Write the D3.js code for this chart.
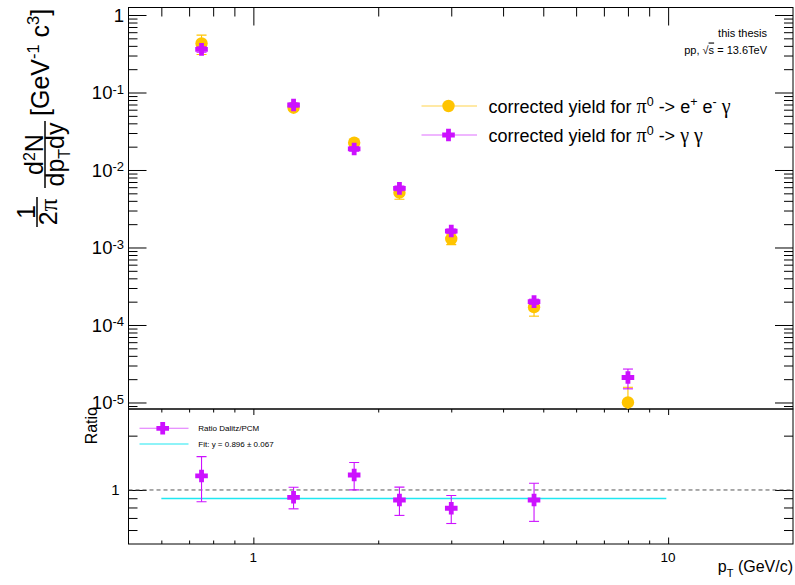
<!DOCTYPE html>
<html>
<head>
<meta charset="utf-8">
<script src="https://cdn.jsdelivr.net/npm/d3@7"></script>
<style>
  html, body { margin: 0; padding: 0; background: #fff; }
  svg { display: block; font-family: "Liberation Sans", Arial, Helvetica, sans-serif; }
  .greek { font-family: "Liberation Serif", "Times New Roman", serif; }
</style>
</head>
<body>
<svg id="chart" width="795" height="585"></svg>
<script>
// pT bin centres (GeV/c)
const ptCenters = [0.75, 1.25, 1.75, 2.25, 3.0, 4.75, 8.0];

// corrected yield, pi0 -> e+ e- gamma (Dalitz)
const dalitzYield = [0.43, 0.0637, 0.0225, 0.0051, 0.00129, 1.7e-4, 1.0e-5];
const dalitzErr   = [0.12, 0.005, 0.002, 0.0009, 0.0002, 0.4e-4, 0.57e-5];

// corrected yield, pi0 -> gamma gamma (PCM)
const pcmYield = [0.36, 0.069, 0.0187, 0.0058, 0.00163, 2.0e-4, 2.1e-5];
const pcmErr   = [0.03, 0.004, 0.0012, 0.0004, 0.0001, 0.15e-4, 0.6e-5];

// ratio Dalitz / PCM
const ratioPt  = [0.75, 1.25, 1.75, 2.25, 3.0, 4.75];
const ratioVal = [1.196, 0.911, 1.211, 0.880, 0.792, 0.880];
const ratioErr = [0.335, 0.125, 0.21, 0.157, 0.14, 0.21];

// constant fit to the ratio
const fitValue = 0.896;
const fitErr = 0.067;
const fitRange = [0.6, 9.9];

// axis ticks
const xMajorTicks = [1, 10];
const xMinorTicks = [0.6, 0.7, 0.8, 0.9, 2, 3, 4, 5, 6, 7, 8, 9];
const xTickLabels = ["1", "10"];
const yDecades = [0, -1, -2, -3, -4, -5];
const ratioMajorTicks = [1];
const ratioMinorTicks = [0.6, 0.7, 0.8, 0.9, 2];

const colDalitz = "#ffc400";
const colPCM = "#cc11ff";
const colFit = "#1fe8f2";

const svg = d3.select("#chart");
const F = { left: 128.5, right: 793, top: 7.5, split: 409, bottom: 544 };

const x = d3.scaleLog().domain([0.5, 20]).range([F.left, F.right]);
const yTop = d3.scaleLog().domain([8.24e-6, 1.25]).range([F.split, F.top]);
const yRat = d3.scaleLog().domain([0.502, 2.81]).range([F.bottom, F.split]);

// minor ticks on the log y axis: 2..9 x 10^k within the domain
function logMinor(scale) {
  const [lo, hi] = scale.domain();
  const out = [];
  for (let k = -7; k <= 1; k++) {
    for (let m = 2; m <= 9; m++) {
      const v = m * Math.pow(10, k);
      if (v > lo && v < hi) out.push(v);
    }
  }
  return out;
}
const yTopMajor = yDecades.map(d => Math.pow(10, d));
const yTopMinor = logMinor(yTop);

function drawAxis(axisFn, scale, values, size, transform) {
  svg.append("g")
    .attr("transform", transform)
    .call(axisFn(scale).tickValues(values).tickSize(size).tickFormat(""))
    .call(g => g.select(".domain").remove())
    .call(g => g.selectAll(".tick line").attr("stroke", "#000").attr("stroke-width", 1));
}

// clip paths
const defs = svg.append("defs");
defs.append("clipPath").attr("id", "clipTop").append("rect")
  .attr("x", F.left).attr("y", F.top).attr("width", F.right - F.left).attr("height", F.split - F.top);
defs.append("clipPath").attr("id", "clipRat").append("rect")
  .attr("x", F.left).attr("y", F.split).attr("width", F.right - F.left).attr("height", F.bottom - F.split);

// ---- ticks, top panel
drawAxis(d3.axisBottom, x, xMinorTicks, 9, `translate(0,${F.top})`);
drawAxis(d3.axisBottom, x, xMajorTicks, 18, `translate(0,${F.top})`);
drawAxis(d3.axisRight, yTop, yTopMinor, 9, `translate(${F.left},0)`);
drawAxis(d3.axisRight, yTop, yTopMajor, 18, `translate(${F.left},0)`);
drawAxis(d3.axisLeft, yTop, yTopMinor, 9, `translate(${F.right},0)`);
drawAxis(d3.axisLeft, yTop, yTopMajor, 18, `translate(${F.right},0)`);

// ---- ticks, ratio panel
drawAxis(d3.axisBottom, x, xMinorTicks, 3.5, `translate(0,${F.split})`);
drawAxis(d3.axisBottom, x, xMajorTicks, 6, `translate(0,${F.split})`);
drawAxis(d3.axisTop, x, xMinorTicks, 3.5, `translate(0,${F.bottom})`);
drawAxis(d3.axisTop, x, xMajorTicks, 6.5, `translate(0,${F.bottom})`);
drawAxis(d3.axisRight, yRat, ratioMinorTicks, 9, `translate(${F.left},0)`);
drawAxis(d3.axisRight, yRat, ratioMajorTicks, 18, `translate(${F.left},0)`);
drawAxis(d3.axisLeft, yRat, ratioMinorTicks, 9, `translate(${F.right},0)`);
drawAxis(d3.axisLeft, yRat, ratioMajorTicks, 18, `translate(${F.right},0)`);

// ---- frames
svg.append("rect").attr("x", F.left).attr("y", F.top)
  .attr("width", F.right - F.left).attr("height", F.split - F.top)
  .attr("fill", "none").attr("stroke", "#000").attr("stroke-width", 1);
svg.append("rect").attr("x", F.left).attr("y", F.split)
  .attr("width", F.right - F.left).attr("height", F.bottom - F.split)
  .attr("fill", "none").attr("stroke", "#000").attr("stroke-width", 1);

// ---- y tick labels, top panel (powers of ten)
const yLab = svg.append("g").attr("font-size", 18.5).attr("fill", "#000");
yDecades.forEach(d => {
  const t = yLab.append("text")
    .attr("x", 124).attr("y", yTop(Math.pow(10, d)) + 6.6)
    .attr("text-anchor", "end");
  if (d === 0) {
    t.text("1");
  } else {
    t.append("tspan").text("10");
    t.append("tspan").attr("font-size", 13).attr("dy", -5.5).text("-" + Math.abs(d));
  }
});

// ---- ratio panel labels
svg.append("text").attr("x", 119.5).attr("y", yRat(1) + 5.4)
  .attr("text-anchor", "end").attr("font-size", 15).text("1");
xMajorTicks.forEach((v, i) => {
  svg.append("text").attr("x", x(v)).attr("y", 562)
    .attr("text-anchor", "middle").attr("font-size", 13.5).text(xTickLabels[i]);
});
const xt = svg.append("text").attr("x", 793).attr("y", 572)
  .attr("text-anchor", "end").attr("font-size", 16);
xt.append("tspan").text("p");
xt.append("tspan").attr("font-size", 11).attr("dy", 5).text("T");
xt.append("tspan").attr("dy", -5).text(" (GeV/c)");

svg.append("text")
  .attr("transform", "translate(97,407) rotate(-90)")
  .attr("text-anchor", "end").attr("font-size", 16).text("Ratio");

// ---- y axis title, top panel (rotated fraction notation)
function rotText(sx, sy, anchor) {
  return svg.append("text")
    .attr("transform", `translate(${sx},${sy}) rotate(-90)`)
    .attr("text-anchor", anchor).attr("font-size", 25);
}
function rotBar(sx, y0, y1) {
  svg.append("line").attr("x1", sx).attr("x2", sx).attr("y1", y0).attr("y2", y1)
    .attr("stroke", "#000").attr("stroke-width", 1.5);
}
rotText(35, 212, "middle").text("1");
rotBar(37, 197, 227);
const twoPi = rotText(57, 212, "middle");
twoPi.append("tspan").text("2");
twoPi.append("tspan").attr("class", "greek").text("\u03C0");
const num = rotText(43, 154.5, "middle");
num.append("tspan").text("d");
num.append("tspan").attr("font-size", 16).attr("dy", -8).text("2");
num.append("tspan").attr("dy", 8).text("N");
rotBar(45, 121, 188);
const den = rotText(64, 154.5, "middle");
den.append("tspan").text("dp");
den.append("tspan").attr("font-size", 16).attr("dy", 6).text("T");
den.append("tspan").attr("dy", -6).text("dy");
const unit = rotText(48.5, 116, "start");
unit.append("tspan").text("[GeV");
unit.append("tspan").attr("font-size", 16.5).attr("dy", -9.5).text("-1");
unit.append("tspan").attr("dy", 9.5).text(" c");
unit.append("tspan").attr("font-size", 16.5).attr("dy", -9.5).text("3");
unit.append("tspan").attr("dy", 9.5).text("]");

// ---- marker shapes
const crossPath = (a, t) =>
  `M${-t},${-a}H${t}V${-t}H${a}V${t}H${t}V${a}H${-t}V${t}H${-a}V${-t}H${-t}Z`;
function drawCross(g, cx, cy) {
  g.append("path").attr("d", crossPath(6.3, 2.4))
    .attr("transform", `translate(${cx},${cy})`).attr("fill", colPCM);
}
function drawCircle(g, cx, cy) {
  g.append("circle").attr("cx", cx).attr("cy", cy).attr("r", 6.2).attr("fill", colDalitz);
}
function drawErr(g, xs, vals, errs, yScale, color) {
  vals.forEach((v, i) => {
    const px = x(xs[i]);
    const y0 = yScale(Math.max(v - errs[i], yScale.domain()[0] * 0.1));
    const y1 = yScale(v + errs[i]);
    g.append("line").attr("x1", px).attr("x2", px).attr("y1", y0).attr("y2", y1)
      .attr("stroke", color).attr("stroke-width", 1.1);
    [y0, y1].forEach(yy => g.append("line")
      .attr("x1", px - 5).attr("x2", px + 5).attr("y1", yy).attr("y2", yy)
      .attr("stroke", color).attr("stroke-width", 1.1));
  });
}

// ---- spectra
const gTop = svg.append("g").attr("clip-path", "url(#clipTop)");
drawErr(gTop, ptCenters, dalitzYield, dalitzErr, yTop, colDalitz);
dalitzYield.forEach((v, i) => drawCircle(gTop, x(ptCenters[i]), yTop(v)));
drawErr(gTop, ptCenters, pcmYield, pcmErr, yTop, colPCM);
pcmYield.forEach((v, i) => drawCross(gTop, x(ptCenters[i]), yTop(v)));

// ---- ratio
const gRat = svg.append("g").attr("clip-path", "url(#clipRat)");
gRat.append("line").attr("x1", F.left).attr("x2", F.right)
  .attr("y1", yRat(1)).attr("y2", yRat(1))
  .attr("stroke", "#555").attr("stroke-width", 1).attr("stroke-dasharray", "4,3");
gRat.append("line").attr("x1", x(fitRange[0])).attr("x2", x(fitRange[1]))
  .attr("y1", yRat(fitValue)).attr("y2", yRat(fitValue))
  .attr("stroke", colFit).attr("stroke-width", 1.5);
drawErr(gRat, ratioPt, ratioVal, ratioErr, yRat, colPCM);
ratioVal.forEach((v, i) => drawCross(gRat, x(ratioPt[i]), yRat(v)));

// ---- legend, spectra
const leg = svg.append("g");
leg.append("line").attr("x1", 421.5).attr("x2", 477).attr("y1", 106).attr("y2", 106)
  .attr("stroke", colDalitz).attr("stroke-width", 1.1).attr("opacity", 0.7);
drawCircle(leg, 448.5, 106);
leg.append("line").attr("x1", 421.5).attr("x2", 477).attr("y1", 135).attr("y2", 135)
  .attr("stroke", colPCM).attr("stroke-width", 1.1).attr("opacity", 0.6);
drawCross(leg, 448.5, 135);
function greek(t, ch) { t.append("tspan").attr("class", "greek").attr("font-size", 20).text(ch); }
const l1 = leg.append("text").attr("x", 488.5).attr("y", 112.6).attr("font-size", 18);
l1.append("tspan").text("corrected yield for ");
greek(l1, "\u03C0");
l1.append("tspan").attr("font-size", 12.5).attr("dy", -7).text("0");
l1.append("tspan").attr("dy", 7).text(" -> e");
l1.append("tspan").attr("font-size", 12.5).attr("dy", -7).text("+");
l1.append("tspan").attr("dy", 7).text(" e");
l1.append("tspan").attr("font-size", 12.5).attr("dy", -7).text("-");
l1.append("tspan").attr("dy", 7).text(" ");
greek(l1, "\u03B3");
const l2 = leg.append("text").attr("x", 488.5).attr("y", 141.6).attr("font-size", 18);
l2.append("tspan").text("corrected yield for ");
greek(l2, "\u03C0");
l2.append("tspan").attr("font-size", 12.5).attr("dy", -7).text("0");
l2.append("tspan").attr("dy", 7).text(" -> ");
greek(l2, "\u03B3");
l2.append("tspan").text("  ");
greek(l2, "\u03B3");

// ---- legend, ratio
const leg2 = svg.append("g");
leg2.append("line").attr("x1", 139.5).attr("x2", 188.5).attr("y1", 428.3).attr("y2", 428.3)
  .attr("stroke", colPCM).attr("stroke-width", 1.1).attr("opacity", 0.6);
drawCross(leg2, 162.7, 428.3);
leg2.append("line").attr("x1", 139.5).attr("x2", 188.5).attr("y1", 444).attr("y2", 444)
  .attr("stroke", colFit).attr("stroke-width", 1.2);
leg2.append("text").attr("x", 198.3).attr("y", 431.2).attr("font-size", 8).text("Ratio Dalitz/PCM");
leg2.append("text").attr("x", 198.3).attr("y", 446.9).attr("font-size", 8)
  .text(`Fit: y = ${fitValue.toFixed(3)} \u00B1 ${fitErr.toFixed(3)}`);

// ---- label, top right
svg.append("text").attr("x", 767).attr("y", 37).attr("text-anchor", "end")
  .attr("font-size", 11).text("this thesis");
const sq = svg.append("text").attr("x", 767).attr("y", 53.5).attr("text-anchor", "end")
  .attr("font-size", 11);
sq.append("tspan").text("pp, \u221A");
sq.append("tspan").attr("text-decoration", "overline").text("s");
sq.append("tspan").text(" = 13.6TeV");
</script>
</body>
</html>
